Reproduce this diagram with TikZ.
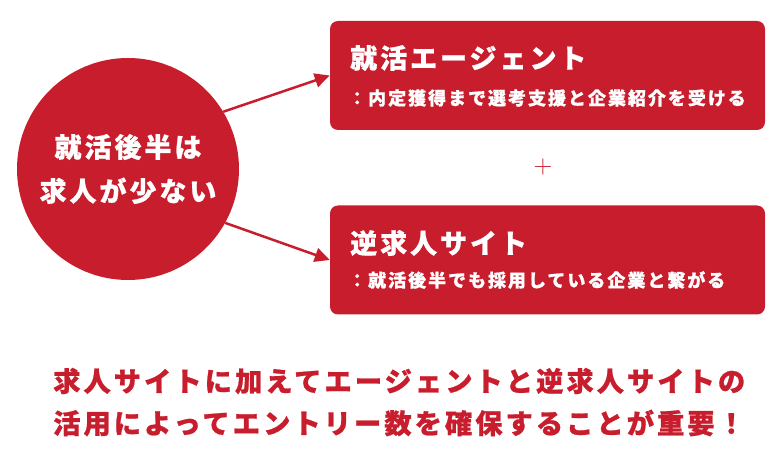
\documentclass[tikz,border=0pt]{standalone}
\usepackage{fontspec}
\usetikzlibrary{arrows.meta}
\newfontfamily\jp{Noto Sans CJK JP}[LetterSpace=11, BoldFeatures={FakeBold=0.8}]
\definecolor{brand}{RGB}{200,29,44}
\begin{document}
\begin{tikzpicture}[x=1pt,y=-1pt,
  box/.style={fill=brand, rounded corners=8pt, draw=none, minimum width=435pt, minimum height=109pt, inner sep=0pt},
  title/.style={anchor=west, text=white, font=\jp\bfseries\fontsize{27}{30}\selectfont, inner sep=0pt},
  sub/.style={anchor=west, text=white, font=\jp\bfseries\fontsize{18}{22}\selectfont, inner sep=0pt},
  conn/.style={draw=brand, line width=2.5pt, -{Triangle[length=15pt,width=14pt]}},
  bigcircle/.style={circle, fill=brand, minimum size=222pt, inner sep=0pt, align=center, text=white, font=\jp\bfseries\fontsize{27}{44}\selectfont},
  bottom/.style={anchor=west, text=brand, font=\jp\bfseries\fontsize{27.3}{32}\selectfont, inner sep=0pt},
  plus/.style={text=brand, font=\fontsize{26}{30}\selectfont, inner sep=0pt}]
\useasboundingbox (0,0) rectangle (780,470);
\node[bigcircle] (c) at (128,169) {就活後半は\\求人が少ない};
\node[box] (b1) at (547.5,75.5) {};
\node[box] (b2) at (547.5,260) {};
\node[title] (t1) at (350,58) {就活エージェント};
\node[sub] (s1) at (348,98) {：内定獲得まで選考支援と企業紹介を受ける};
\node[title] (t2) at (350,243) {逆求人サイト};
\node[sub] (s2) at (348,280) {：就活後半でも採用している企業と繋がる};
\node[plus] (p) at (543,167) {+};
\draw[conn] (c.31) -- (b1.west);
\draw[conn] (c.-29) -- (b2.west);
\node[bottom] (l1) at (53,381) {求人サイトに加えてエージェントと逆求人サイトの};
\node[bottom] (l2) at (53,423) {活用によってエントリー数を確保することが重要！};
\end{tikzpicture}
\end{document}
